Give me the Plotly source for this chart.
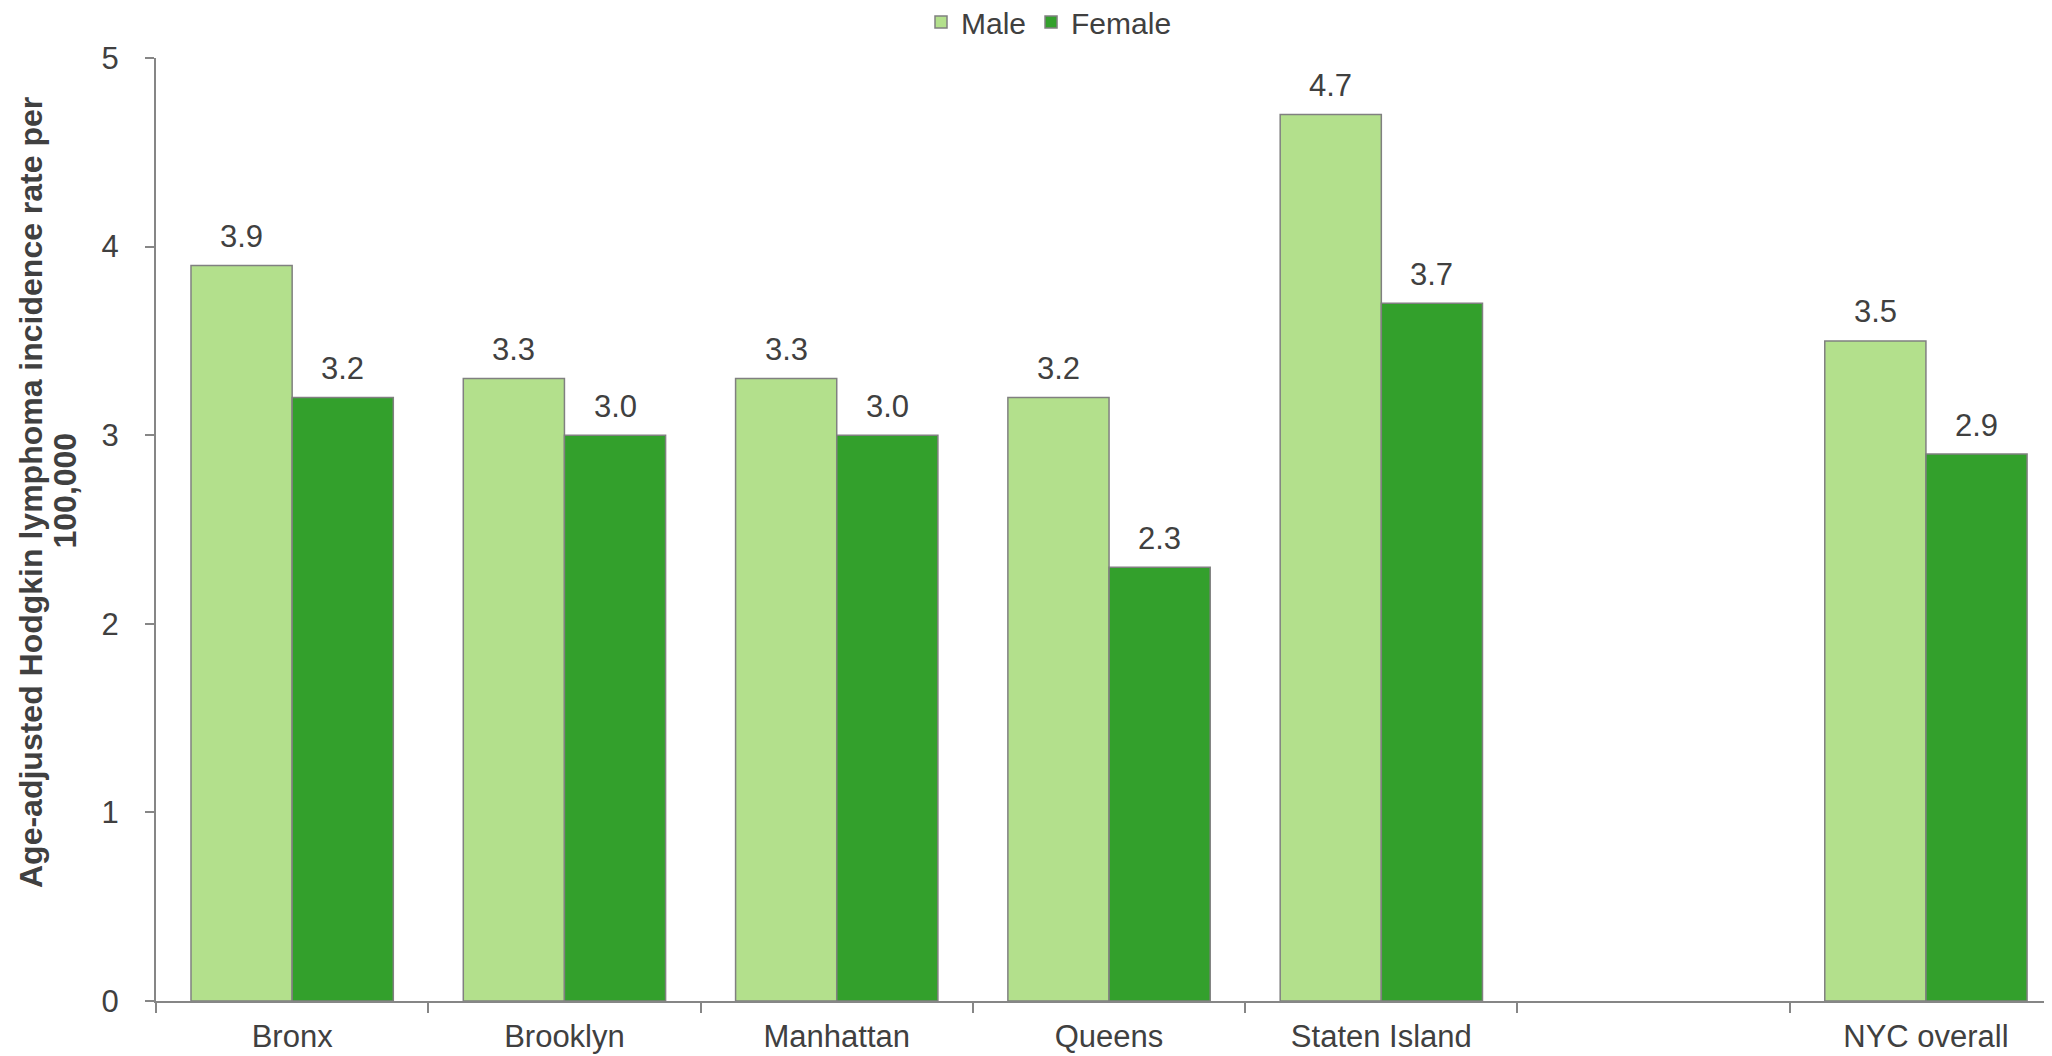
import plotly.graph_objects as go

categories = ["Bronx", "Brooklyn", "Manhattan", "Queens", "Staten Island", " ", "NYC overall"]
male = [3.9, 3.3, 3.3, 3.2, 4.7, None, 3.5]
female = [3.2, 3.0, 3.0, 2.3, 3.7, None, 2.9]
y_ticks = [0, 1, 2, 3, 4, 5]

# the page body has an 8px default margin; the figure is sized to fill the rest of the window
OFF = 8
W, H = 2052 - OFF, 1056 - OFF
ML, MR, MT, MB = 156 - OFF, 0, 58 - OFF, 1056 - 1001
TEXT = "#404040"
AXIS = "#868686"
FONT = "Arial, Liberation Sans, sans-serif"

fig = go.Figure()
fig.add_trace(go.Bar(name="Male", x=categories, y=male, marker=dict(color="#b3e08c", line=dict(color="#808080", width=1.5))))
fig.add_trace(go.Bar(name="Female", x=categories, y=female, marker=dict(color="#33a02c", line=dict(color="#808080", width=1.5))))

plot_h = H - MT - MB
plot_w = W - ML - MR
cat_px = plot_w / 6.963
half = 0.743 * cat_px / 4

ann = []
for series, sh in ((male, -half), (female, half)):
    for c, v in zip(categories, series):
        if v is None:
            continue
        ann.append(dict(x=c, y=v, xref="x", yref="y", text=f"{v:.1f}", showarrow=False,
                        xshift=sh, yshift=29, yanchor="middle",
                        font=dict(size=31, color=TEXT, family=FONT)))

ann.append(dict(x=-(156 - 31) / plot_w, y=(1001 - 493) / plot_h, xref="paper", yref="paper",
                text="<b>Age-adjusted Hodgkin lymphoma incidence rate per</b>", textangle=-90,
                showarrow=False, xanchor="center", yanchor="middle",
                font=dict(size=32, color=TEXT, family=FONT)))
ann.append(dict(x=-(156 - 64.5) / plot_w, y=(1001 - 491) / plot_h, xref="paper", yref="paper",
                text="<b>100,000</b>", textangle=-90,
                showarrow=False, xanchor="center", yanchor="middle",
                font=dict(size=32, color=TEXT, family=FONT)))

fig.update_layout(
    width=W, height=H,
    margin=dict(l=ML, r=MR, t=MT, b=MB, pad=0, autoexpand=False),
    plot_bgcolor="white", paper_bgcolor="white",
    barmode="group", bargap=0.257, bargroupgap=0,
    font=dict(family=FONT, size=31, color=TEXT),
    showlegend=True,
    legend=dict(orientation="h", x=(921 - 156) / plot_w, xanchor="left",
                y=1 + (58 - 22) / plot_h, yanchor="middle",
                font=dict(size=30, color=TEXT), traceorder="normal"),
    annotations=ann,
    xaxis=dict(range=[-0.5, 6.463], showline=True, linecolor=AXIS, linewidth=2,
               ticks="outside", tickson="boundaries", ticklen=10, tickcolor=AXIS, tickwidth=2,
               ticklabelstandoff=7,
               showgrid=False, zeroline=False, tickfont=dict(size=31, color=TEXT)),
    yaxis=dict(range=[0, 5], tickvals=y_ticks, showline=True, linecolor=AXIS, linewidth=2,
               ticks="outside", ticklen=9, tickcolor=AXIS, tickwidth=2, ticklabelstandoff=20,
               showgrid=False, zeroline=False, tickfont=dict(size=31, color=TEXT)),
)

fig.write_html("out.html")
